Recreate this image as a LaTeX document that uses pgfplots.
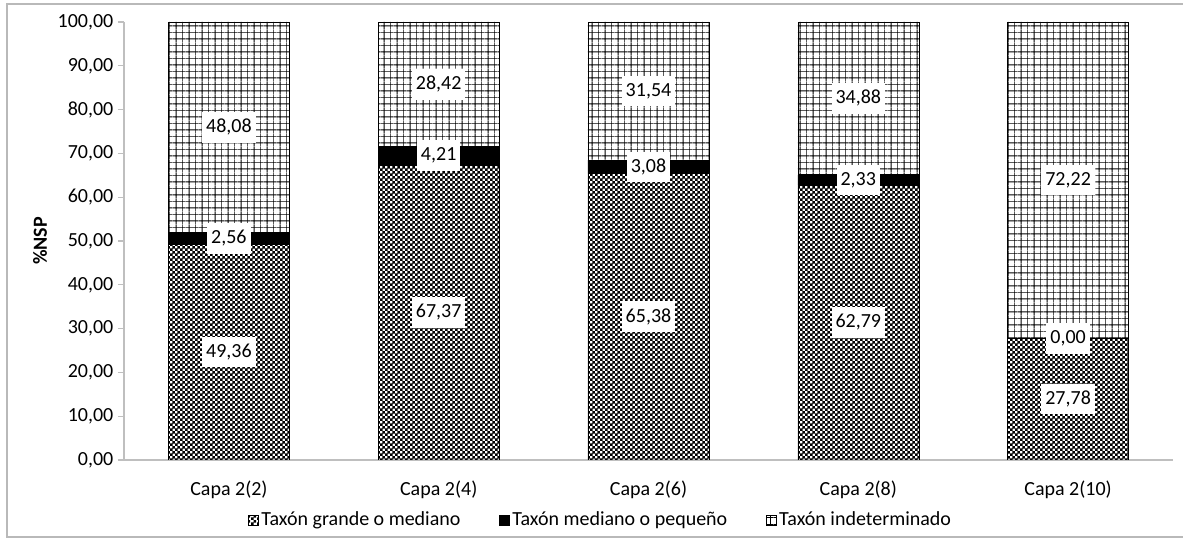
\documentclass[border=0pt]{standalone}
\usepackage{pgfplots}
\pgfplotsset{compat=1.18}
\usepackage{pgfplotstable}
\usepackage{fontspec}
\setmainfont{Carlito}
\usetikzlibrary{patterns}

\pgfdeclarepatternformonly{finechecker}{\pgfpointorigin}{\pgfpoint{4pt}{4pt}}{\pgfpoint{4pt}{4pt}}{%
  \pgfpathrectangle{\pgfpointorigin}{\pgfpoint{2.15pt}{2.15pt}}%
  \pgfpathrectangle{\pgfpoint{2pt}{2pt}}{\pgfpoint{2.15pt}{2.15pt}}%
  \pgfusepath{fill}}
\pgfdeclarepatternformonly{finegrid}{\pgfpointorigin}{\pgfpoint{10pt}{10pt}}{\pgfpoint{10pt}{10pt}}{%
  \pgfsetlinewidth{0.35pt}%
  \pgfpathmoveto{\pgfpoint{7.5pt}{0pt}}\pgfpathlineto{\pgfpoint{7.5pt}{10pt}}%
  \pgfpathmoveto{\pgfpoint{0pt}{7.5pt}}\pgfpathlineto{\pgfpoint{10pt}{7.5pt}}%
  \pgfusepath{stroke}%
  \pgfsetlinewidth{0.7pt}%
  \pgfpathmoveto{\pgfpoint{2.5pt}{0pt}}\pgfpathlineto{\pgfpoint{2.5pt}{10pt}}%
  \pgfpathmoveto{\pgfpoint{0pt}{2.5pt}}\pgfpathlineto{\pgfpoint{10pt}{2.5pt}}%
  \pgfusepath{stroke}}

\pgfplotstableread{
x g m i
0 49.36 2.56 48.08
1 67.37 4.21 28.42
2 65.38 3.08 31.54
3 62.79 2.33 34.88
4 27.78 0.00 72.22
}\datatable

\pgfplotsset{
  mylegend/.style={legend image code/.code={\draw[##1, draw=black, line width=0.4pt] (0pt,-3.6pt) rectangle (7.5pt,3.6pt);}},
  common/.style={at={(93pt,60.75pt)}, anchor=south west,
    scale only axis, width=786.75pt, height=328.5pt,
    xmin=-0.5, xmax=4.5, ymin=0, ymax=100},
  vallabel/.style={only marks, mark=none, point meta=explicit,
    nodes near coords={\pgfmathprintnumber[assume math mode=true,use comma,fixed,fixed zerofill,precision=2]{\pgfplotspointmeta}},
    every node near coord/.append style={fill=white, inner xsep=3pt, inner ysep=0pt, minimum height=23pt,
      anchor=center, text=black, font=\fontsize{15}{18}\selectfont}},
}

\begin{document}
\begin{tikzpicture}[font=\fontsize{15}{18}\selectfont]
\useasboundingbox (0,0) rectangle (887.25pt,405.75pt);
\draw[gray!55, line width=0.8pt] (5.25pt,3pt) rectangle (895pt,402.75pt);
\begin{axis}[
  common,
  ybar stacked, bar width=90.75pt,
  xtick=data,
  xticklabels={Capa 2(2),Capa 2(4),Capa 2(6),Capa 2(8),Capa 2(10)},
  ytick={0,10,...,100},
  axis lines*=left,
  axis line style={gray!50, line width=0.8pt, -},
  tick align=outside,
  xtick style={draw=none},
  ytick style={gray!50, line width=0.8pt},
  major tick length=4.5pt,
  yticklabel={\pgfmathprintnumber[assume math mode=true,use comma,fixed,fixed zerofill,precision=2]{\tick}},
  xticklabel style={yshift=-7.5pt},
  ylabel={\textbf{\%NSP}},
  ylabel style={at={(axis description cs:-0.0801,0.5)}, anchor=center},
  legend style={at={(axis description cs:0.4547,-0.137)}, anchor=center, draw=none, fill=none,
    legend columns=3, /tikz/every even column/.append style={column sep=27pt},
    font=\fontsize{15}{18}\selectfont},
  legend cell align=left,
]
\addplot[draw=black, line width=0.4pt, pattern=finechecker, pattern color=black, mylegend]
  table[x=x, y=g] {\datatable};
\addplot[draw=black, line width=0.4pt, fill=black, mylegend]
  table[x=x, y=m] {\datatable};
\addplot[draw=black, line width=0.4pt, pattern=finegrid, pattern color=black, mylegend]
  table[x=x, y=i] {\datatable};
\legend{Taxón grande o mediano, Taxón mediano o pequeño, Taxón indeterminado}
\end{axis}
\begin{axis}[common, hide axis]
\addplot[vallabel] table[x=x, y expr=\thisrow{g}/2, meta=g] {\datatable};
\addplot[vallabel] table[x=x, y expr=\thisrow{g}+\thisrow{m}/2, meta=m] {\datatable};
\addplot[vallabel] table[x=x, y expr=\thisrow{g}+\thisrow{m}+\thisrow{i}/2, meta=i] {\datatable};
\end{axis}
\end{tikzpicture}
\end{document}
